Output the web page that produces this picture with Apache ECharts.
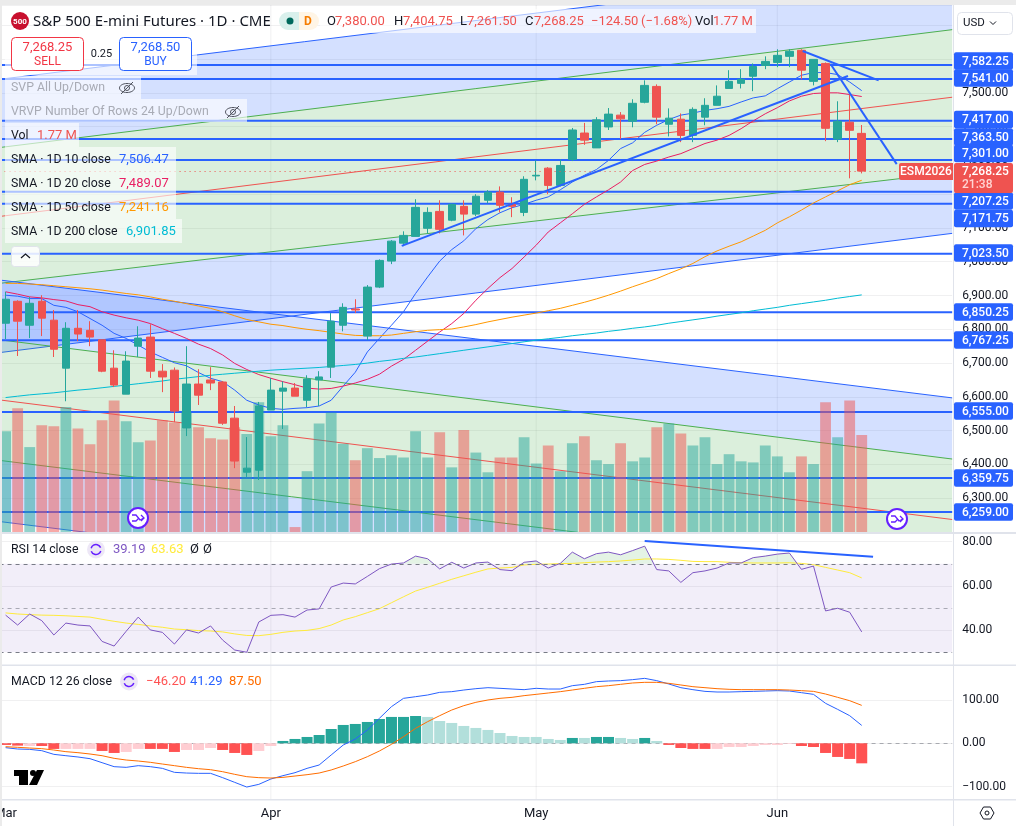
<!DOCTYPE html>
<html>
<head>
<meta charset="utf-8">
<script src="https://cdn.jsdelivr.net/npm/echarts@6/dist/echarts.min.js"></script>
<style>html,body{margin:0;padding:0;background:#fff}#c{width:1016px;height:826px}</style>
</head>
<body>
<div id="c"></div>
<script>
const monthLabels = {0:'Mar',22:'Apr',44:'May',64:'Jun'};
const monthTicks = [22,44,64];
const categories = Array.from({length:79},(_,i)=>monthLabels[i]||String(i));

const opens  = [6818,6883,6812,6883,6827,6685,6803,6797,6769,6685,6608,6750,6777,6676,6679,6508,6638,6650,6644,6537,6377,6383,6561,6617,6626,6590,6650,6688,6812,6860,6780,6925,7002,7055,7075,7099,7149,7123,7164,7141,7182,7206,7170,7146,7254,7277,7226,7303,7381,7337,7399,7434,7416,7472,7519,7407,7422,7374,7428,7463,7513,7528,7549,7581,7590,7608,7626,7534,7587,7363,7413,7380];
const highs  = [6911,6886,6896,6901,6857,6821,6857,6824,6769,6738,6735,6809,6815,6697,6687,6750,6682,6688,6647,6573,6481,6585,6656,6646,6641,6664,6676,6848,6877,6889,6931,7007,7064,7090,7185,7161,7182,7172,7182,7200,7212,7223,7191,7253,7300,7280,7303,7396,7411,7428,7455,7443,7481,7537,7525,7454,7439,7457,7484,7522,7567,7570,7587,7608,7629,7629,7629,7599,7590,7475,7495,7404.75];
const lows   = [6771,6721,6774,6780,6718,6587,6765,6750,6673,6629,6608,6718,6656,6614,6525,6484,6576,6620,6517,6389,6363,6354,6561,6505,6602,6570,6573,6656,6794,6848,6768,6922,6993,7046,7075,7084,7084,7120,7078,7135,7173,7146,7132,7135,7241,7200,7223,7298,7346,7337,7390,7363,7398,7469,7407,7371,7354,7354,7404,7463,7513,7513,7505,7570,7576,7576,7540,7522,7357,7354,7247,7261.5];
const closes = [6889,6824,6877,6833,6741,6803,6786,6777,6676,6635,6706,6774,6676,6659,6558,6638,6605,6641,6522,6410,6389,6573,6620,6626,6602,6653,6659,6824,6865,6857,6925,7004,7061,7078,7161,7146,7096,7170,7141,7194,7206,7167,7164,7244,7256,7226,7285,7390,7360,7420,7437,7423,7469,7522,7428,7425,7374,7451,7463,7490,7534,7540,7578,7593,7611,7623,7567,7599,7395,7416,7389,7268.25];
const volumes = [1.84,2.26,1.55,1.95,1.93,2.28,1.89,1.60,2.04,2.40,2.02,1.64,1.67,2.04,2.00,2.18,1.91,1.71,1.69,1.91,1.79,2.37,1.75,1.95,0.09,1.11,1.98,2.18,1.61,1.31,1.53,1.35,1.40,1.36,1.84,1.36,1.82,1.18,1.86,1.45,1.09,1.36,1.36,1.73,1.25,1.58,1.11,1.62,1.75,1.31,1.24,1.62,1.29,1.36,1.91,1.98,1.80,1.58,1.73,1.24,1.42,1.29,1.27,1.58,1.38,1.09,1.38,1.24,2.37,1.73,2.40,1.77];
const sma10 = [6901,6898,6891,6891,6871,6865,6852,6832,6812,6788,6773,6753,6733,6717,6701,6692,6672,6655,6645,6620,6590,6576,6566,6563,6566,6568,6573,6590,6632,6673,6733,6773,6812,6852,6906,6955,7002,7036,7062,7098,7125,7145,7160,7170,7182,7192,7213,7236,7256,7273,7300,7335,7352,7383,7404,7421,7434,7440,7448,7453,7460,7473,7485,7491,7512,7532,7552,7560,7560,7554,7532,7506.47];
const sma20 = [6911,6904,6896,6893,6888,6884,6873,6867,6852,6842,6834,6827,6817,6802,6788,6773,6756,6743,6724,6699,6681,6666,6655,6645,6636,6626,6623,6625,6632,6641,6652,6667,6691,6711,6738,6765,6792,6817,6847,6886,6921,6953,6980,7014,7049,7088,7115,7142,7170,7192,7213,7236,7270,7288,7298,7310,7320,7335,7350,7360,7374,7394,7417,7438,7456,7476,7490,7498,7500,7500,7495,7489.07];
const sma50 = [6936,6936,6934,6932,6929,6926,6923,6920,6916,6911,6906,6902,6896,6889,6883,6876,6869,6862,6852,6840,6829,6822,6815,6811,6805,6800,6796,6791,6786,6782,6781,6781,6783,6788,6793,6797,6799,6801,6807,6814,6822,6829,6836,6842,6848,6855,6862,6871,6880,6890,6901,6913,6926,6938,6950,6965,6979,6995,7015,7032,7046,7059,7076,7093,7115,7133,7153,7174,7192,7210,7228,7241.16];
const sma200 = [6598,6602,6606,6609,6612,6616,6620,6623,6627,6631,6635,6639,6643,6647,6652,6656,6660,6664,6667,6670,6673,6676,6679,6681,6683,6685,6687,6690,6693,6696,6700,6705,6709,6714,6718,6723,6728,6733,6738,6743,6748,6753,6758,6763,6768,6772,6776,6781,6785,6789,6794,6798,6803,6807,6812,6818,6823,6828,6833,6839,6844,6849,6855,6860,6865,6871,6876,6881,6886,6892,6897,6901.85];

const rsi = [46.8,42.3,47.3,44.3,37.8,43.2,42.3,41.9,34.9,32.8,39.5,45.9,40.1,39,33.7,40.1,38.7,41.9,35.5,31,30,43.7,46.7,47,45.9,49.1,49.6,59.5,61.3,60.9,64.3,67.8,69.9,70.4,73.5,72.3,67.7,70.7,68.1,70.4,70.8,67.4,66.9,70.7,71.3,68.1,70.2,75.3,72.3,74.6,75.3,74.1,76,78,67.4,66.8,61.6,66,66.8,68.1,70.4,70.4,72.8,73.5,74.4,74.9,67.5,69,48.7,49.9,48.1,39.19];
const rsiMa = [47.8,47.3,47,46.8,46.7,46.5,46.2,45.9,44.9,44,43.2,42.6,41.9,41.3,40.5,40.2,39.8,39.6,39.2,38.3,37.6,37.5,38.1,39,39.6,39.9,40.7,42.3,44.6,46.1,47.9,49.7,52.4,55.1,57.7,59.4,61.2,63,64.6,66.2,67.7,68.1,68.4,69.5,69.8,69.9,70.1,70.2,70.5,70.8,71,71.3,71.7,72.2,72.2,72,71.6,71.1,71,71,70.7,70.5,70.4,70.4,70.4,70.5,70.2,69.6,68.4,67.2,66,63.63];
const macd = [-10.1,-13.2,-14,-17,-25.5,-28.6,-31.6,-35.5,-44.7,-53.9,-55.5,-51.6,-53.9,-57.8,-67,-68.6,-69.3,-69.3,-79.3,-90.1,-100.9,-94.7,-82.4,-74.7,-67.8,-57.8,-50.1,-27,-4,9.9,30.6,57.6,84.5,103.7,107.5,111.4,117.5,119.1,122.9,126,128.3,126.8,125.2,123.7,126.8,125.2,125.2,132.9,136,142.2,143.7,144.5,146.8,149.8,144.5,136.8,128.3,123.7,119.8,118.3,118.3,119.1,119.8,120.6,121.4,120.6,116.8,112.9,92.2,78.3,63.7,41.29];
const macdSignal = [-7.8,-9.3,-10.9,-12.4,-15.5,-19.3,-21.6,-24.7,-28.6,-34.7,-38.6,-40.9,-43.9,-47.8,-51.6,-55.5,-58.6,-60.9,-65.5,-71.6,-77,-79.3,-80.1,-78.6,-75.5,-72.4,-68.6,-61.6,-52.4,-42.4,-30.9,-17.8,-2.4,15.3,34.5,49.9,63.7,76.8,86.8,94.5,99.9,103.7,106,109.9,112.9,116,119.1,122.9,126.8,130.6,132.9,136,139.1,140.6,140.6,138.3,134.5,130.6,128.3,126,124.5,123.7,123.7,123.7,123.7,122.9,121.4,119.8,113.7,106,98.3,87.5];
const macdHist = [-3.8,-5.4,-6.2,-6.2,-13,-13,-13,-13,-17.7,-22.3,-20,-13,-13,-13,-20,-15.4,-15.4,-10.8,-15.4,-22.3,-26.9,-17.7,-6.2,5.4,10,14.6,19.2,33,42.3,44.6,49.2,56.1,60.8,60.8,63,60.8,51.5,46.9,40,35.4,30.8,23.8,16.9,14.6,14.6,10,7.7,12.3,12.3,14.6,14.6,12.3,10,12.3,5.4,-3.8,-10.8,-13,-13,-13,-8.5,-8.5,-6.2,-3.8,-3.8,-1.5,-6.2,-8.5,-22.3,-31.5,-36.1,-46.2];
const macdHistStrong = 'ddlddlllddlldddllldddll'+'dddddddddddd'+'llllllllllll'+'dlddlldl'+'dddd'+'lllllll'+'dddddd';

const priceLevels = [7582.25,7541,7417,7363.5,7301,7207.25,7171.75,7023.5,6850.25,6767.25,6555,6359.75,6259];
const priceLevelLabelY = [61,78,119.5,137,153.5,201,218.5,253,312,340,411,478,512];

const risingChannel  = [[7540,7888],[7338,7687],[7134,7487],[6936,7264],[6731,7084]];
const fallingChannel = [[6946,6597],[6769,6416],[6591,6237],[6412,6061],[6231,5880]];
const trendLines = [[32.85,7047,69.86,7550],[66.1,7624,72.4,7537],[68.4,7586,73.9,7289]];
const rsiTrendLine = [[53,80.3,71.94,73.2]];

const UP='#26a69a', DOWN='#ef5350', BLUE='#2962ff';
const FONT="Roboto";
const xL=-0.43, xW=952.6, XMIN=-0.5, XMAX=78.5;
const candleData = opens.map((o,i)=>[o,closes[i],lows[i],highs[i]]);

function lineSeg(api,a,b,style){
  const p=api.coord(a),q=api.coord(b);
  return {type:'line',shape:{x1:p[0],y1:p[1],x2:q[0],y2:q[1]},style};
}
function bandSeries(rows,colors,lineColors){
  return {type:'custom',xAxisIndex:1,yAxisIndex:0,z:1,clip:true,silent:true,animation:false,
    data:rows,
    renderItem(params,api){
      const i=params.dataIndex,c=[];
      const a0=api.value(0),a1=api.value(1),b0=api.value(2),b1=api.value(3);
      const pts=[[XMIN,a0],[XMAX,a1],[XMAX,b1],[XMIN,b0]].map(v=>api.coord(v));
      c.push({type:'polygon',shape:{points:pts},style:{fill:colors[i],stroke:null}});
      c.push(lineSeg(api,[XMIN,a0],[XMAX,a1],{stroke:lineColors[i],lineWidth:1,fill:null}));
      if(i===rows.length-1) c.push(lineSeg(api,[XMIN,b0],[XMAX,b1],{stroke:lineColors[i+1],lineWidth:1,fill:null}));
      return {type:'group',children:c};
    }};
}
function channelSeries(ch){
  const rows=[[ch[0][0],ch[0][1],ch[1][0],ch[1][1]],[ch[1][0],ch[1][1],ch[3][0],ch[3][1]],[ch[3][0],ch[3][1],ch[4][0],ch[4][1]]];
  return bandSeries(rows,['rgba(41,98,255,0.2)','rgba(76,175,80,0.2)','rgba(41,98,255,0.2)'],[BLUE,'#4caf50','#4caf50',BLUE]);
}
function midLine(ch){
  return {type:'custom',xAxisIndex:1,yAxisIndex:0,z:1,clip:true,silent:true,data:[ch[2]],
    renderItem(p,api){return lineSeg(api,[XMIN,api.value(0)],[XMAX,api.value(1)],{stroke:'#ef5350',lineWidth:1,fill:null});}};
}
function monthLines(xi,yi,lo,hi){
  return {type:'custom',xAxisIndex:xi,yAxisIndex:yi,z:0,silent:true,data:monthTicks.map(v=>[v]),
    renderItem(p,api){return lineSeg(api,[api.value(0),lo],[api.value(0),hi],{stroke:'rgba(42,46,57,0.07)',lineWidth:1,fill:null});}};
}
function smaLine(d,c){
  return {type:'line',data:d,xAxisIndex:0,yAxisIndex:0,showSymbol:false,z:3,silent:true,lineStyle:{color:c,width:1}};
}

const series=[
  monthLines(1,0,6200,7760),
  channelSeries(risingChannel),midLine(risingChannel),
  channelSeries(fallingChannel),midLine(fallingChannel),
  {type:'custom',xAxisIndex:1,yAxisIndex:0,z:1.5,clip:true,silent:true,data:priceLevels.map(v=>[v]),
    renderItem(p,api){return lineSeg(api,[XMIN,api.value(0)],[XMAX,api.value(0)],{stroke:BLUE,lineWidth:2,fill:null});}},
  {type:'bar',xAxisIndex:0,yAxisIndex:1,z:2,barWidth:10.8,silent:true,
    data:volumes.map((v,i)=>({value:v,itemStyle:{color:closes[i]>=opens[i]?'rgba(38,166,154,0.5)':'rgba(239,83,80,0.5)'}}))},
  smaLine(sma10,BLUE),smaLine(sma20,'#e91e63'),smaLine(sma50,'#ff9800'),smaLine(sma200,'#00bcd4'),
  {type:'candlestick',xAxisIndex:0,yAxisIndex:0,z:4,barWidth:8,silent:true,data:candleData,
    itemStyle:{color:UP,color0:DOWN,borderColor:UP,borderColor0:DOWN,borderWidth:1},
    markLine:{silent:true,symbol:'none',animation:false,label:{show:false},
      lineStyle:{color:DOWN,type:[1,4],width:1},data:[{yAxis:closes[71]}]}},
  {type:'custom',xAxisIndex:1,yAxisIndex:0,z:5,clip:true,silent:true,data:trendLines,
    renderItem(p,api){return lineSeg(api,[api.value(0),api.value(1)],[api.value(2),api.value(3)],{stroke:BLUE,lineWidth:2,fill:null});}},

  monthLines(3,2,24,84),
  {type:'custom',xAxisIndex:3,yAxisIndex:2,z:1,silent:true,clip:true,data:rsi.slice(0,-1).map((v,i)=>[i,v,rsi[i+1]]),
    renderItem(p,api){
      const i=api.value(0),a=api.value(1),b=api.value(2),L=70,fill='rgba(76,175,80,0.15)';
      if(a<=L&&b<=L) return null;
      const A=api.coord([i,a]),B=api.coord([i+1,b]),yL=api.coord([i,L])[1];
      if(a>L&&b>L) return {type:'polygon',shape:{points:[A,B,[B[0],yL],[A[0],yL]]},style:{fill}};
      if(a>L){const xm=A[0]+(B[0]-A[0])*(a-L)/(a-b);return {type:'polygon',shape:{points:[A,[xm,yL],[A[0],yL]]},style:{fill}};}
      const xm=A[0]+(B[0]-A[0])*(L-a)/(b-a);
      return {type:'polygon',shape:{points:[[xm,yL],B,[B[0],yL]]},style:{fill}};
    }},
  {type:'line',xAxisIndex:2,yAxisIndex:2,z:2,data:rsiMa,showSymbol:false,silent:true,lineStyle:{color:'#ffeb3b',width:1}},
  {type:'line',xAxisIndex:2,yAxisIndex:2,z:3,data:rsi,showSymbol:false,silent:true,lineStyle:{color:'#7e57c2',width:1},
    markArea:{silent:true,animation:false,itemStyle:{color:'rgba(126,87,194,0.1)'},data:[[{yAxis:30},{yAxis:70}]]},
    markLine:{silent:true,symbol:'none',animation:false,label:{show:false},
      data:[{yAxis:70,lineStyle:{color:'#787b86',type:[4,4],width:1}},{yAxis:50,lineStyle:{color:'rgba(120,123,134,0.6)',type:[4,4],width:1}},{yAxis:30,lineStyle:{color:'#787b86',type:[4,4],width:1}}]}},
  {type:'custom',xAxisIndex:3,yAxisIndex:2,z:5,silent:true,data:rsiTrendLine,
    renderItem(p,api){return lineSeg(api,[api.value(0),api.value(1)],[api.value(2),api.value(3)],{stroke:BLUE,lineWidth:2,fill:null});}},

  monthLines(5,3,-128.5,178.3),
  {type:'bar',xAxisIndex:4,yAxisIndex:3,z:2,barWidth:11,silent:true,
    data:macdHist.map((v,i)=>{const s=macdHistStrong[i]==='d';return {value:v,itemStyle:{color:v>=0?(s?UP:'#b2dfdb'):(s?'#ff5252':'#ffcdd2')}};}),
    markLine:{silent:true,symbol:'none',animation:false,label:{show:false},z:1,
      lineStyle:{color:'rgba(120,123,134,0.6)',type:[4,4],width:1},data:[{yAxis:0}]}},
  {type:'line',xAxisIndex:4,yAxisIndex:3,z:3,data:macd,showSymbol:false,silent:true,lineStyle:{color:BLUE,width:1}},
  {type:'line',xAxisIndex:4,yAxisIndex:3,z:3,data:macdSignal,showSymbol:false,silent:true,lineStyle:{color:'#ff6d00',width:1}}
];

const gridLine={show:true,lineStyle:{color:'rgba(42,46,57,0.07)',width:1}};
const fmt2=v=>(v<0?'\u2212':'')+Math.abs(v).toLocaleString('en-US',{minimumFractionDigits:2,maximumFractionDigits:2});
const lbl={color:'#131722',fontFamily:FONT,fontSize:12,margin:10,padding:[2,0,0,0]};
const catAxis=(g,extra)=>Object.assign({type:'category',gridIndex:g,data:categories,boundaryGap:true,axisLine:{show:false},axisTick:{show:false},axisLabel:{show:false},splitLine:{show:false}},extra||{});
const valAxis=g=>({type:'value',gridIndex:g,min:XMIN,max:XMAX,show:false,splitLine:{show:false}});

const T=(text,x,y,fill,font,align)=>({type:'text',z:100,silent:true,style:{text,x,y,fill,font:font||("13px "+FONT),align:align||'left',verticalAlign:'middle'}});
const R=(x,y,w,h,fill,stroke,r,lw)=>({type:'rect',z:99,silent:true,shape:{x,y,width:w,height:h,r:r||0},style:{fill:fill||'transparent',stroke:stroke||null,lineWidth:lw||1}});
const PL=(pts,stroke,lw)=>({type:'polyline',z:101,silent:true,shape:{points:pts},style:{stroke,lineWidth:lw||1,fill:null}});
const PG=(pts,fill)=>({type:'polygon',z:100,silent:true,shape:{points:pts},style:{fill}});
const LF="12.3px "+FONT;
const G=[];
// frame and separators
G.push(R(0,0,1016,5,'#ebebeb'),R(0,0,2,826,'#ebebeb'));
G.push(R(953,5,1,821,'#e0e3eb'),R(2,532,1014,2,'#e0e3eb'),R(2,664.5,1014,1.5,'#e0e3eb'),R(2,799,1014,1.5,'#e0e3eb'));
// header rows
const bg='rgba(255,255,255,0.62)';
G.push(R(320,9,436,24,bg));
G.push(R(5,37,192,38,bg),R(5,76,136,23,bg),R(5,99,242,23,bg),R(5,123,74,24,bg),R(5,147,171,72,bg),R(5,219,177,24,bg));
G.push({type:'circle',z:100,silent:true,shape:{cx:20,cy:21,r:9},style:{fill:'#c8102e'}});
G.push(T('500',20,21.5,'#fff',"bold 8px "+FONT,'center'));
G.push(T('S&P 500 E-mini Futures \u00b7 1D \u00b7 CME',33,22,'#131722',"15px 'Noto Sans'"));
G.push(R(279,12,20,18,'#d9f0ec',null,[9,0,0,9]),R(299,12,20,18,'#fff5e6',null,[0,9,9,0]));
G.push({type:'circle',z:100,silent:true,shape:{cx:290,cy:21,r:3.5},style:{fill:'#00695c'}});
G.push(T('D',308,21.5,'#f57c00',"bold 12px "+FONT,'center'));
const red='#ef5350';
[['O',327,'#131722'],['7,380.00',335,red],['H',394,'#131722'],['7,404.75',403,red],['L',460,'#131722'],['7,261.50',467,red],['C',525,'#131722'],['7,268.25',534,red],['\u2212124.50',591,red],['(\u22121.68%)',641,red],['Vol',695,'#131722'],['1.77 M',713,red]].forEach(a=>G.push(T(a[0],a[1],21.5,a[2])));
// sell / buy
G.push(R(11.5,37.5,72,33,'#fff','#f23645',4),R(119.5,37.5,72,33,'#fff',BLUE,4));
G.push(T('7,268.25',47.5,47.5,'#f23645',"13px "+FONT,'center'),T('SELL',47.5,61.5,'#f23645',"12px "+FONT,'center'));
G.push(T('7,268.50',155.5,47.5,BLUE,"13px "+FONT,'center'),T('BUY',155.5,61.5,BLUE,"12px "+FONT,'center'));
G.push(T('0.25',101.5,54.5,'#131722',"11px "+FONT,'center'));
// legend lines
const gray='#a8abb5';
G.push(T('SVP All Up/Down',11,88,gray,LF),T('VRVP Number Of Rows 24 Up/Down',11,112,gray,LF));
function eye(cx,cy){
  G.push({type:'ellipse',z:101,silent:true,shape:{cx,cy,rx:7.5,ry:4.5},style:{fill:null,stroke:'#50535e',lineWidth:1}});
  G.push({type:'circle',z:101,silent:true,shape:{cx,cy,r:2.5},style:{fill:null,stroke:'#50535e',lineWidth:1}});
  G.push(PL([[cx-6,cy+6],[cx+6,cy-6]],'#50535e',1));
}
eye(127,88);eye(233,112);
G.push(T('Vol',11,136,'#131722',LF),T('1.77 M',37,136,red));
G.push(T('SMA \u00b7 1D 10 close',11,160,'#131722',LF),T('7,506.47',119,160,BLUE));
G.push(T('SMA \u00b7 1D 20 close',11,184,'#131722',LF),T('7,489.07',119,184,'#e91e63'));
G.push(T('SMA \u00b7 1D 50 close',11,208,'#131722',LF),T('7,241.16',119,208,'#ff9800'));
G.push(T('SMA \u00b7 1D 200 close',11,232,'#131722',LF),T('6,901.85',126,232,'#00bcd4'));
G.push(R(11.5,246.5,28,20,'rgba(255,255,255,0.85)','#e0e3eb',3),PL([[21,258],[25.5,254],[30,258]],'#131722',1.2));
// pane legends
function cycle(cx,cy){
  G.push({type:'circle',z:100,silent:true,shape:{cx,cy,r:9},style:{fill:'#ede7f6'}});
  G.push({type:'arc',z:101,silent:true,shape:{cx,cy,r:5,startAngle:0.3,endAngle:2.8},style:{stroke:'#651fff',lineWidth:1.5,fill:null}});
  G.push({type:'arc',z:101,silent:true,shape:{cx,cy,r:5,startAngle:3.4,endAngle:5.9},style:{stroke:'#651fff',lineWidth:1.5,fill:null}});
}
G.push(T('RSI 14 close',11,549.5,'#131722',LF));cycle(96,549.5);
G.push(T('39.19',113,549.5,'#7e57c2'),T('63.63',151,549.5,'#ffeb3b'),T('\u00d8',190,549.5,'#131722'),T('\u00d8',203,549.5,'#131722'));
G.push(T('MACD 12 26 close',11,681.5,'#131722',LF));cycle(129,681.5);
G.push(T('\u221246.20',146,681.5,'#ff5252'),T('41.29',190,681.5,BLUE),T('87.50',229,681.5,'#ff6d00'));
// tv logo
G.push(PG([[14,770],[28,770],[28,785],[19,785],[19,776],[14,776]],'#000'),PG([[37,770],[44,770],[37,785],[29,785]],'#000'));
G.push({type:'circle',z:100,silent:true,shape:{cx:33,cy:773,r:3},style:{fill:'#000'}});
// arrows
function arrowMark(cx,cy){
  G.push({type:'circle',z:100,silent:true,shape:{cx,cy,r:10},style:{fill:'#fff',stroke:'#651fff',lineWidth:2}});
  G.push(PL([[cx-6,cy-3],[cx-2,cy-3],[cx+2,cy+2],[cx+6,cy]],'#651fff',1.3));
  G.push(PL([[cx-6,cy+3],[cx-2,cy+3],[cx+1,cy]],'#651fff',1.3));
  G.push(PL([[cx+3,cy-3],[cx+6,cy],[cx+3,cy+3]],'#651fff',1.3));
}
arrowMark(138,518);arrowMark(897,519);
// price labels
const fmtP=v=>v.toLocaleString('en-US',{minimumFractionDigits:2,maximumFractionDigits:2});
priceLevels.forEach((v,i)=>{
  const y=priceLevelLabelY[i];
  G.push(R(954,y-8.8,59,17.6,BLUE,null,2));
  G.push(T(fmtP(v),962,y+0.5,'#fff',"500 12px "+FONT,'left'));
});
G.push(R(899,163,54,17,DOWN,null,[2,0,0,2]),T('ESM2026',926,172,'#fff',"500 12px "+FONT,'center'));
G.push(R(954,163,59,30,DOWN,null,2),T('7,268.25',962,171.5,'#fff',"500 12px "+FONT,'left'),T('21:38',962,185,'#ffd5d3',"500 12px "+FONT,'left'));
// currency box + gear
G.push(R(957.5,12.5,55,22,'#fff','#e0e3eb',4),T('USD',963,23.5,'#131722',"11.5px "+FONT),PL([[990,21.5],[993,24.5],[996,21.5]],'#131722',1));
G.push({type:'polygon',z:101,silent:true,shape:{points:[[980,813],[983.5,807],[990.5,807],[994,813],[990.5,819],[983.5,819]]},style:{fill:null,stroke:'#131722',lineWidth:1}});
G.push({type:'circle',z:101,silent:true,shape:{cx:987,cy:813,r:2},style:{fill:null,stroke:'#131722',lineWidth:1}});

const option={
  animation:false,backgroundColor:'#fff',
  grid:[
    {left:xL,top:5,width:xW,height:527,outerBoundsMode:'none'},
    {left:xL,top:532.9,width:xW,height:132.6,outerBoundsMode:'none'},
    {left:xL,top:666,width:xW,height:133,outerBoundsMode:'none'}
  ],
  xAxis:[catAxis(0),valAxis(0),catAxis(1),valAxis(1),
    catAxis(2,{axisLabel:{show:true,color:'#131722',fontFamily:FONT,fontSize:13,margin:8,hideOverlap:false,
      interval:(i)=>monthLabels[i]!==undefined,formatter:v=>isNaN(+v)?v:''}}),
    valAxis(2)],
  yAxis:[
    {type:'value',gridIndex:0,position:'right',min:6200,max:7760,interval:100,axisLine:{show:false},axisTick:{show:false},splitLine:gridLine,
      axisLabel:Object.assign({},lbl,{formatter:v=>(v>=6300&&v<=7500&&v%100===0)?fmt2(v):''})},
    {type:'value',gridIndex:0,position:'right',min:0,max:9.62,show:false,splitLine:{show:false}},
    {type:'value',gridIndex:1,position:'right',min:24,max:84,axisLine:{show:false},
      axisTick:{show:false,customValues:[40,60,80]},splitLine:gridLine,
      axisLabel:Object.assign({},lbl,{customValues:[40,60,80],formatter:fmt2})},
    {type:'value',gridIndex:2,position:'right',min:-128.5,max:178.3,axisLine:{show:false},
      axisTick:{show:false,customValues:[-100,0,100]},splitLine:gridLine,
      axisLabel:Object.assign({},lbl,{customValues:[-100,0,100],formatter:fmt2})}
  ],
  series,
  graphic:{elements:G}
};
const chart=echarts.init(document.getElementById('c'),null,{renderer:'canvas',width:1016,height:826});
chart.setOption(option);
</script>
</body>
</html>
